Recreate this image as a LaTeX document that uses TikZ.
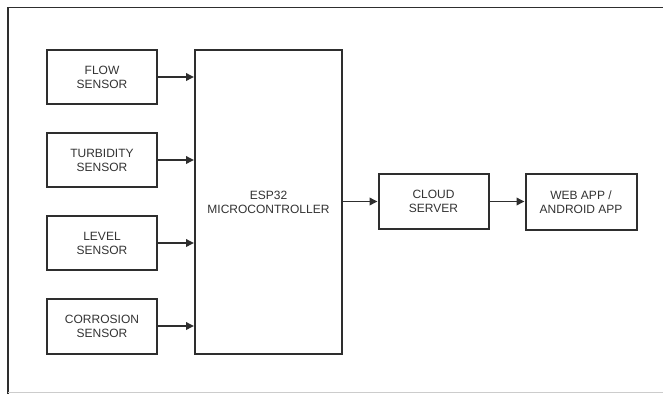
\documentclass[tikz,border=0pt]{standalone}
\usepackage{fontspec}
\setmainfont{Liberation Sans}
\usetikzlibrary{arrows.meta}
\definecolor{linec}{HTML}{2E2E2E}
\definecolor{textc}{HTML}{333333}
\begin{document}
\begin{tikzpicture}[x=1pt,y=-1pt,
  blockbox/.style={draw=linec,line width=2pt,fill=white,align=center,inner sep=0pt,
    text=textc,font=\fontsize{12}{14}\selectfont},
  conn/.style={draw=linec,line width=1.8pt,-{Triangle[length=8pt,width=7.5pt]}}]
\useasboundingbox (0,0) rectangle (663,394);
\fill[white] (0,0) rectangle (663,394);
% frame
\draw[linec,line width=1.6pt] (663,7.5) -- (8,7.5) -- (8,394);
\draw[gray!40,line width=1pt] (8,392) -- (663,392);
% sensors
\node[blockbox,minimum width=110pt,minimum height=54pt] (flow) at (102,77) {FLOW\\SENSOR};
\node[blockbox,minimum width=110pt,minimum height=54pt] (turb) at (102,160) {TURBIDITY\\SENSOR};
\node[blockbox,minimum width=110pt,minimum height=54pt] (level) at (102,243) {LEVEL\\SENSOR};
\node[blockbox,minimum width=110pt,minimum height=55pt] (corr) at (102,326) {CORROSION\\SENSOR};
% esp32
\node[blockbox,minimum width=147pt,minimum height=304pt] (esp) at (268.5,202) {ESP32\\MICROCONTROLLER};
% cloud / app
\node[blockbox,minimum width=110pt,minimum height=55pt] (cloud) at (433.5,201.5) {CLOUD\\SERVER};
\node[blockbox,minimum width=111pt,minimum height=56pt] (app) at (581,202) {WEB APP /\\ANDROID APP};
% connectors
\draw[conn] (flow.east) -- (flow.east -| esp.west);
\draw[conn] (turb.east) -- (turb.east -| esp.west);
\draw[conn] (level.east) -- (level.east -| esp.west);
\draw[conn] (corr.east) -- (corr.east -| esp.west);
\draw[conn] (esp.east |- cloud.west) -- (cloud.west);
\draw[conn] (cloud.east) -- (app.west |- cloud.east);
\end{tikzpicture}
\end{document}
